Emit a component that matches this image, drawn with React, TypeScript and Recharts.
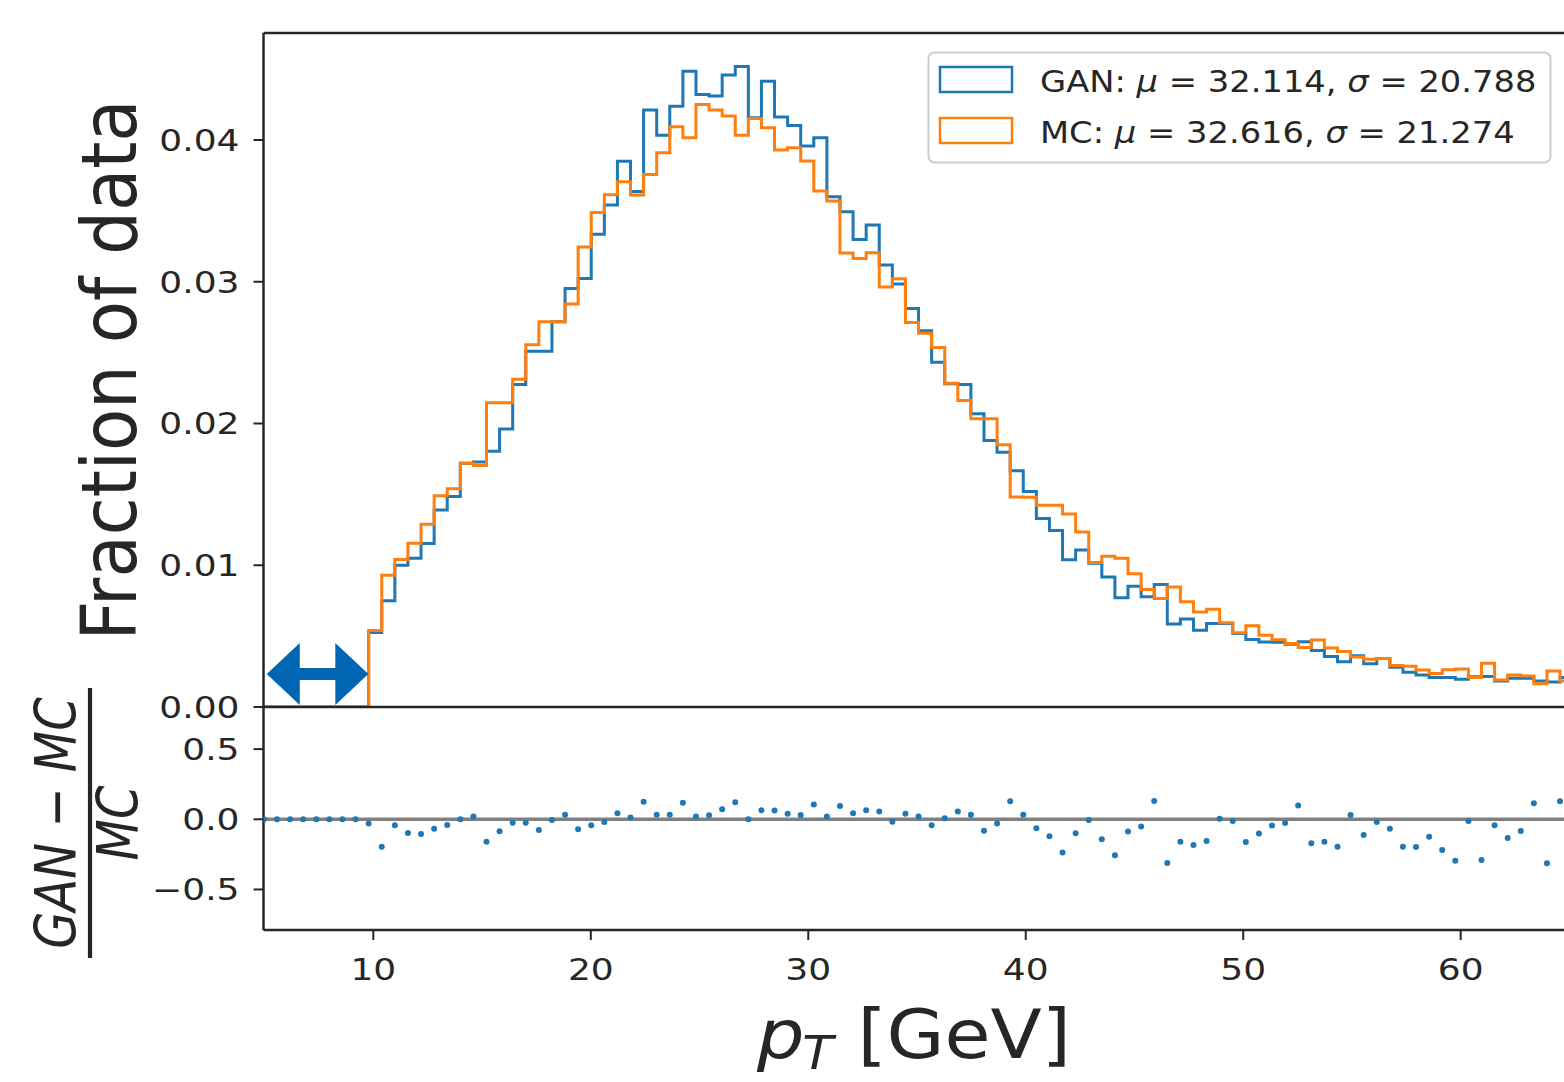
import { LineChart, Line, XAxis, YAxis, ReferenceLine, ScatterChart, Scatter } from 'recharts'

// histogram binning (GeV)
const BIN_START = 4.97
const BIN_WIDTH = 0.602
const X_MIN = 4.95
const X_MAX = 64.75
const FRACTION_MAX = 0.04755
const RATIO_MIN = -0.789
const RATIO_MAX = 0.8

// fraction of data per bin
const GAN = [
  0, 0, 0, 0, 0, 0, 0, 0,
  0.00525, 0.0075, 0.01, 0.0105, 0.01153, 0.0139, 0.01485, 0.0172, 0.01728, 0.01805,
  0.01962, 0.02275, 0.02509, 0.02509, 0.02718, 0.02953, 0.03023, 0.03336, 0.03542, 0.0385,
  0.03637, 0.04211, 0.04034, 0.04239, 0.04486, 0.04322, 0.0431, 0.04458, 0.04519, 0.04157,
  0.04415, 0.04162, 0.04103, 0.03958, 0.04016, 0.036, 0.03494, 0.03298, 0.034, 0.03118,
  0.02984, 0.02812, 0.02655, 0.02432, 0.0228, 0.02275, 0.02068, 0.0188, 0.01798, 0.01666,
  0.0152, 0.01329, 0.01246, 0.01038, 0.01108, 0.01014, 0.00918, 0.0077, 0.00852, 0.00777,
  0.00864, 0.00585, 0.0062, 0.00542, 0.00589, 0.00589, 0.00519, 0.00477, 0.00458, 0.00456,
  0.00443, 0.0046, 0.00398, 0.00356, 0.00319, 0.00362, 0.00305, 0.00343, 0.0028, 0.00245,
  0.00225, 0.00209, 0.00208, 0.00196, 0.00213, 0.00215, 0.00184, 0.00202, 0.00202, 0.00184,
  0.00176, 0.00209,
]

const MC = [
  0, 0, 0, 0, 0, 0, 0, 0,
  0.0054, 0.0093, 0.0104, 0.01155, 0.0129, 0.0149, 0.0154, 0.0172, 0.01704, 0.02146,
  0.02146, 0.02312, 0.02556, 0.02718, 0.02718, 0.02843, 0.03246, 0.03488, 0.03613, 0.03705,
  0.03612, 0.03756, 0.0391, 0.04094, 0.04016, 0.04251, 0.04211, 0.04169, 0.04033, 0.04152,
  0.04087, 0.0393, 0.03946, 0.03852, 0.03641, 0.0357, 0.03203, 0.03164, 0.03204, 0.02963,
  0.03021, 0.02713, 0.02636, 0.02537, 0.02284, 0.02162, 0.02033, 0.02033, 0.0185, 0.01481,
  0.01479, 0.01423, 0.01423, 0.01362, 0.01235, 0.0102, 0.01063, 0.0105, 0.0094, 0.00829,
  0.00765, 0.00847, 0.00742, 0.00671, 0.0069, 0.00594, 0.00523, 0.00574, 0.00507, 0.00475,
  0.00448, 0.0042, 0.00472, 0.00416, 0.00392, 0.00352, 0.00336, 0.00343, 0.00292, 0.00287,
  0.00261, 0.00237, 0.00263, 0.00268, 0.00208, 0.00308, 0.0019, 0.00225, 0.00218, 0.00164,
  0.00254, 0.00184,
]

// (GAN - MC) / MC per bin
const RATIO = [
  0, 0, 0, 0, 0, 0, 0, 0,
  -0.03, -0.195, -0.043, -0.098, -0.105, -0.067, -0.04, 0.0, 0.019, -0.16,
  -0.086, -0.024, -0.024, -0.076, -0.005, 0.033, -0.071, -0.043, -0.019, 0.043,
  0.012, 0.124, 0.033, 0.033, 0.117, 0.019, 0.029, 0.071, 0.121, 0.0,
  0.064, 0.062, 0.04, 0.031, 0.105, 0.019, 0.095, 0.043, 0.064, 0.055,
  -0.017, 0.04, 0.019, -0.043, 0.007, 0.055, 0.033, -0.081, -0.031, 0.129,
  0.033, -0.064, -0.121, -0.236, -0.1, -0.005, -0.143, -0.257, -0.088, -0.052,
  0.131, -0.312, -0.16, -0.183, -0.155, 0.003, -0.012, -0.162, -0.102, -0.045,
  -0.026, 0.098, -0.171, -0.16, -0.195, 0.031, -0.112, -0.019, -0.067, -0.195,
  -0.198, -0.124, -0.219, -0.295, -0.012, -0.29, -0.043, -0.133, -0.083, 0.114,
  -0.314, 0.129,
]

const FRACTION_TICKS = [0, 0.01, 0.02, 0.03, 0.04]
const RATIO_TICKS = [-0.5, 0, 0.5]
const PT_TICKS = [10, 20, 30, 40, 50, 60]

// the cut marker drawn at the low-pT end
const ARROW_X = [5.1, 9.77]
const ARROW_Y = 0.00233

const GAN_LEGEND = { name: 'GAN', mu: '32.114', sigma: '20.788' }
const MC_LEGEND = { name: 'MC', mu: '32.616', sigma: '21.274' }

const BLUE = '#1f77b4'
const ORANGE = '#ff7f0e'
const INK = '#262626'
const FONT = 'DejaVu Sans'
const STRETCH = 1.2

const edge = (i: number) => BIN_START + i * BIN_WIDTH

const histRows = Array.from({ length: GAN.length + 1 }, (_, i) => ({
  x: edge(i),
  gan: GAN[Math.min(i, GAN.length - 1)],
  mc: MC[Math.min(i, MC.length - 1)],
}))

const ratioRows = RATIO.map((r, i) => ({ x: edge(i), r }))

const fmtMinus = (s: string) => s.replace('-', '\u2212')

function YTick(props: any) {
  const { x, y, payload, digits } = props
  return (
    <text
      transform={`translate(${x},${y}) scale(${STRETCH},1)`}
      textAnchor="end"
      dy="0.36em"
      fontFamily={FONT}
      fontSize={30}
      fill={INK}
    >
      {fmtMinus(Number(payload.value).toFixed(digits))}
    </text>
  )
}

function XTick(props: any) {
  const { x, y, payload } = props
  return (
    <text
      transform={`translate(${x},${y}) scale(${STRETCH},1)`}
      textAnchor="middle"
      dy="0.73em"
      fontFamily={FONT}
      fontSize={30}
      fill={INK}
    >
      {payload.value}
    </text>
  )
}

function DoubleArrow(props: any) {
  const { x1, y1, x2 } = props
  const head = 33
  const half = 31
  const shaft = 6
  const pts = [
    [x1, y1],
    [x1 + head, y1 - half],
    [x1 + head, y1 - shaft],
    [x2 - head, y1 - shaft],
    [x2 - head, y1 - half],
    [x2, y1],
    [x2 - head, y1 + half],
    [x2 - head, y1 + shaft],
    [x1 + head, y1 + shaft],
    [x1 + head, y1 + half],
  ]
  return <polygon points={pts.map((p) => p.join(',')).join(' ')} fill="#0066b3" />
}

function Dot(props: any) {
  return <circle cx={props.cx} cy={props.cy} r={3} fill={BLUE} />
}

const spine = { stroke: INK, strokeWidth: 2.5 }
const tickLine = { stroke: INK, strokeWidth: 2 }

function LegendRow({ y, color, item }: { y: number; color: string; item: typeof GAN_LEGEND }) {
  return (
    <g>
      <rect x={940} y={y - 25} width={72} height={25} fill="none" stroke={color} strokeWidth={2.5} />
      <text transform={`translate(1040,${y}) scale(1.125,1)`} fontFamily={FONT} fontSize={30} fill={INK}>
        {item.name}: <tspan fontStyle="italic">μ</tspan> = {item.mu}, <tspan fontStyle="italic">σ</tspan> = {item.sigma}
      </text>
    </g>
  )
}

export default function App() {
  return (
    <div style={{ position: 'absolute', left: 0, top: 0, width: 1564, height: 1082, background: '#fff', overflow: 'hidden' }}>
      <div style={{ position: 'absolute', left: 0, top: 0 }}>
        <LineChart width={1564} height={735} data={histRows} margin={{ top: 33, right: 0, bottom: 28, left: 0 }}>
          <XAxis dataKey="x" type="number" domain={[X_MIN, X_MAX]} allowDataOverflow hide />
          <YAxis
            type="number"
            domain={[0, FRACTION_MAX]}
            ticks={FRACTION_TICKS}
            allowDataOverflow
            interval={0}
            width={263.5}
            tickSize={10}
            tickMargin={14}
            axisLine={spine}
            tickLine={tickLine}
            tick={(p: any) => <YTick {...p} digits={2} />}
          />
          <Line dataKey="gan" type="stepAfter" stroke={BLUE} strokeWidth={3} dot={false} isAnimationActive={false} />
          <Line dataKey="mc" type="stepAfter" stroke={ORANGE} strokeWidth={3} dot={false} isAnimationActive={false} />
          <ReferenceLine
            segment={[
              { x: ARROW_X[0], y: ARROW_Y },
              { x: ARROW_X[1], y: ARROW_Y },
            ]}
            shape={DoubleArrow}
          />
          <ReferenceLine y={FRACTION_MAX} ifOverflow="visible" stroke={INK} strokeWidth={2.5} />
        </LineChart>
      </div>

      <div style={{ position: 'absolute', left: 0, top: 690 }}>
        <ScatterChart width={1564} height={310} margin={{ top: 17, right: 0, bottom: 0, left: 0 }}>
          <XAxis
            dataKey="x"
            type="number"
            domain={[X_MIN, X_MAX]}
            allowDataOverflow
            ticks={PT_TICKS}
            interval={0}
            height={70}
            tickSize={10}
            tickMargin={18}
            axisLine={spine}
            tickLine={tickLine}
            tick={(p: any) => <XTick {...p} />}
          />
          <YAxis
            dataKey="r"
            type="number"
            domain={[RATIO_MIN, RATIO_MAX]}
            ticks={RATIO_TICKS}
            allowDataOverflow
            interval={0}
            width={263.5}
            tickSize={10}
            tickMargin={14}
            axisLine={spine}
            tickLine={tickLine}
            tick={(p: any) => <YTick {...p} digits={1} />}
          />
          <Scatter data={ratioRows} shape={Dot} isAnimationActive={false} />
          <ReferenceLine y={0} stroke="#808080" strokeWidth={3.5} />
          <ReferenceLine y={RATIO_MAX} ifOverflow="visible" stroke={INK} strokeWidth={2.5} />
        </ScatterChart>
      </div>

      <svg width={1564} height={1082} style={{ position: 'absolute', left: 0, top: 0, pointerEvents: 'none' }}>
        <text
          transform={`translate(136,370) scale(1.1,1) rotate(-90)`}
          textAnchor="middle"
          fontFamily={FONT}
          fontSize={69}
          fill={INK}
        >
          Fraction of data
        </text>

        <g transform={`translate(90,823) scale(${STRETCH},1) rotate(-90)`}>
          <text x={0} y={-12} textAnchor="middle" fontFamily={FONT} fontStyle="italic" fontSize={48} fill={INK}>
            GAN − MC
          </text>
          <line x1={-135} x2={135} y1={0} y2={0} stroke={INK} strokeWidth={3.5} />
          <text x={0} y={40} textAnchor="middle" fontFamily={FONT} fontStyle="italic" fontSize={48} fill={INK}>
            MC
          </text>
        </g>

        <text transform={`translate(757,1058) scale(1.1,1)`} fontFamily={FONT} fontSize={68} fill={INK}>
          <tspan fontStyle="italic">p</tspan>
          <tspan fontStyle="italic" fontSize={46} dx={-2} dy={11}>T</tspan>
          <tspan dx={22} dy={-11}>[GeV]</tspan>
        </text>

        <rect x={928.5} y={52.5} width={622} height={110} rx={6} fill="#fff" fillOpacity={0.8} stroke="#cccccc" strokeWidth={2} />
        <LegendRow y={92} color={BLUE} item={GAN_LEGEND} />
        <LegendRow y={143} color={ORANGE} item={MC_LEGEND} />
      </svg>
    </div>
  )
}
